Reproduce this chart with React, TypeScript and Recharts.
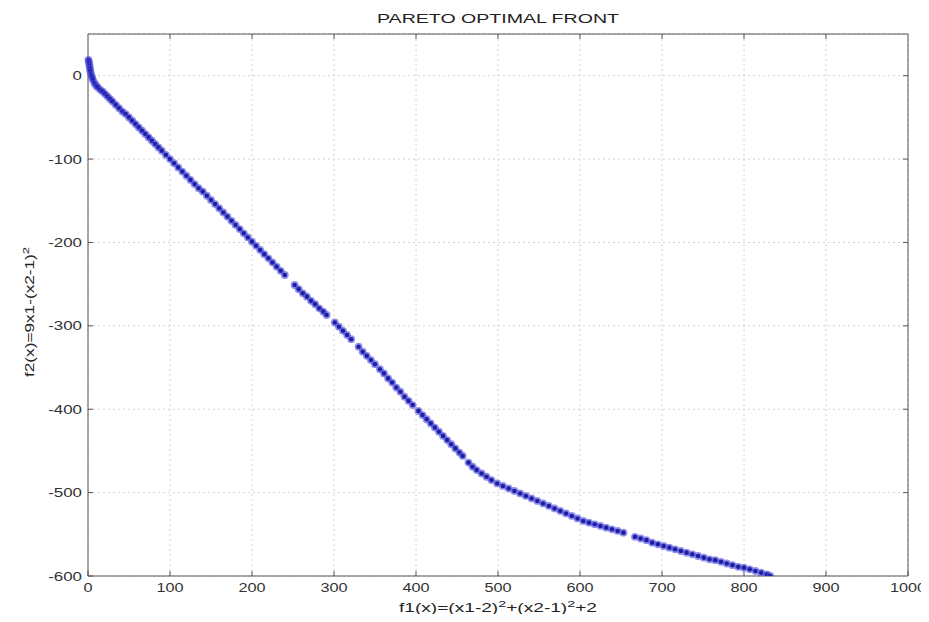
import React from 'react';
import { ScatterChart, Scatter, XAxis, YAxis, CartesianGrid, Label, ReferenceLine } from 'recharts';

const f1Values = [
  0.5, 1, 1.5, 2, 2.5, 3, 4, 5, 6, 8, 10, 12, 15, 18, 21, 24, 27, 30, 34, 38, 42, 46, 50, 54, 58, 62, 66, 70, 74, 78,
  82, 86, 90, 95, 100, 105, 110, 115, 120, 125, 130, 135, 140, 145, 150, 155, 160, 165, 170, 175, 180, 185, 190, 195,
  200, 205, 210, 215, 220, 225, 230, 235, 240, 252, 257, 262, 267, 272, 277, 282, 287, 291, 301, 306, 311, 316, 321,
  330, 335, 340, 345, 350, 356, 361, 366, 371, 376, 381, 386, 391, 396, 403, 408, 413, 418, 423, 428, 433, 438, 443,
  448, 453, 457, 464, 469, 474, 480, 486, 492, 499, 506, 513, 520, 527, 534, 541, 548, 555, 562, 569, 576, 583, 590,
  597, 604, 611, 618, 625, 632, 639, 646, 653, 667, 674, 681, 688, 695, 702, 709, 716, 723, 730, 737, 744, 751, 758,
  765, 772, 779, 786, 793, 800, 807, 814, 821, 828, 832,
];

const f2Values = [
  19, 17, 14, 11, 8, 5, 1, -2, -5, -9, -12, -14, -17, -19, -22, -25, -28, -31, -35, -39, -43, -46, -50, -54, -58, -62, -66, -70, -74, -78,
  -82, -86, -90, -95, -100, -105, -110, -115, -120, -125, -130, -135, -139, -144, -149, -154, -159, -164, -169, -174, -179, -184, -189, -194,
  -199, -204, -209, -214, -219, -224, -229, -234, -239, -251, -256, -261, -265, -270, -274, -279, -283, -287, -296, -301, -306, -311, -316,
  -325, -331, -336, -341, -346, -352, -357, -363, -368, -374, -379, -385, -390, -395, -402, -407, -412, -417, -422, -427, -432, -437, -442,
  -447, -452, -456, -464, -469, -473, -477, -481, -485, -489, -492, -495, -498, -501, -504, -507, -510, -513, -516, -519, -522, -525, -528,
  -531, -534, -536, -538, -540, -542, -544, -546, -548, -553, -555, -557, -560, -562, -564, -566, -568, -570, -572, -574, -576, -578, -580,
  -581, -583, -585, -587, -589, -590, -592, -594, -596, -598, -600,
];

const xTicks = [0, 100, 200, 300, 400, 500, 600, 700, 800, 900, 1000];
const yTicks = [-600, -500, -400, -300, -200, -100, 0];
const xDomain = [0, 1000];
const yDomain = [-600, 50];
const titleText = 'PARETO OPTIMAL FRONT';

const data = f1Values.map((f1, i) => ({ f1, f2: f2Values[i] }));

const FONT = '"Liberation Sans", Arial, Helvetica, sans-serif';
const AXIS = '#555';

const XTick = (props: any) => {
  const { x, y, payload } = props;
  return (
    <g transform={`translate(${x},${y})`}>
      <text transform="scale(1.25,1)" textAnchor="middle" dy="0.71em" fontSize={13} fill="#333" fontFamily={FONT}>
        {payload.value}
      </text>
    </g>
  );
};

const YTick = (props: any) => {
  const { x, y, payload } = props;
  return (
    <g transform={`translate(${x},${y})`}>
      <text transform="scale(1.3,1)" textAnchor="end" dy="0.355em" fontSize={13} fill="#333" fontFamily={FONT}>
        {payload.value}
      </text>
    </g>
  );
};

const Dot = (props: any) => {
  const { cx, cy } = props;
  return (
    <g>
      <circle cx={cx} cy={cy} r={3.9} fill="#4a4ae2" fillOpacity={0.6} />
      <circle cx={cx} cy={cy} r={2.3} fill="#1e1e9e" />
    </g>
  );
};

export default function App() {
  const topVal = yDomain[1];
  const rightVal = xDomain[1];
  return (
    <div style={{ width: 913, height: 606, overflow: 'visible' }}>
      <style>{'html{scrollbar-width:none}body{margin:8px;overflow:visible}.recharts-surface{overflow:visible !important}.recharts-wrapper{overflow:visible !important}'}</style>
      <ScatterChart width={913} height={606} margin={{ top: 26, right: 13, bottom: 0, left: 0 }} style={{ fontFamily: FONT, overflow: 'visible' }}>
        <CartesianGrid stroke="#d2d2d2" strokeDasharray="2 3" />
        <XAxis
          type="number"
          dataKey="f1"
          domain={xDomain}
          ticks={xTicks}
          height={38}
          tickSize={-5}
          tickMargin={12}
          tick={<XTick />}
          axisLine={{ stroke: AXIS }}
          tickLine={{ stroke: AXIS }}
          interval={0}
        >
          <Label
            content={(p: any) => {
              const vb = p.viewBox;
              const cx = vb.x + vb.width / 2;
              const by = vb.y + 36;
              return (
                <text x={cx} y={by} textAnchor="middle" fontSize={12} fill="#222" fontFamily={FONT} textLength={198} lengthAdjust="spacingAndGlyphs">
                  f1(x)=(x1-2)
                  <tspan dy={-5} fontSize={9}>2</tspan>
                  <tspan dy={5}>+(x2-1)</tspan>
                  <tspan dy={-5} fontSize={9}>2</tspan>
                  <tspan dy={5}>+2</tspan>
                </text>
              );
            }}
          />
        </XAxis>
        <YAxis
          type="number"
          dataKey="f2"
          domain={yDomain}
          ticks={yTicks}
          width={80}
          tickSize={-5}
          tickMargin={11}
          tick={<YTick />}
          axisLine={{ stroke: AXIS }}
          tickLine={{ stroke: AXIS }}
          interval={0}
          allowDataOverflow
        >
          <Label
            content={(p: any) => {
              const vb = p.viewBox;
              const cy = vb.y + vb.height / 2 + 7;
              const bx = 26;
              return (
                <text x={bx} y={cy} transform={`rotate(-90, ${bx}, ${cy})`} textAnchor="middle" fontSize={12} fill="#222" fontFamily={FONT} textLength={130} lengthAdjust="spacingAndGlyphs">
                  f2(x)=9x1-(x2-1)
                  <tspan dy={-5} fontSize={9}>2</tspan>
                </text>
              );
            }}
          />
        </YAxis>
        <ReferenceLine y={topVal} stroke={AXIS} strokeWidth={1}>
          <Label
            content={(p: any) => {
              const vb = p.viewBox;
              const cx = vb.x + vb.width / 2;
              return (
                <text x={cx} y={vb.y - 11} textAnchor="middle" fontSize={13} fill="#222" fontFamily={FONT} textLength={242} lengthAdjust="spacingAndGlyphs">
                  {titleText}
                </text>
              );
            }}
          />
        </ReferenceLine>
        <ReferenceLine x={rightVal} stroke={AXIS} strokeWidth={1} />
        {xTicks.slice(1, -1).map((t) => (
          <ReferenceLine key={`tx${t}`} segment={[{ x: t, y: topVal }, { x: t, y: topVal - 6 }]} stroke={AXIS} />
        ))}
        {yTicks.slice(1).map((t) => (
          <ReferenceLine key={`ty${t}`} segment={[{ x: rightVal, y: t }, { x: rightVal - 6, y: t }]} stroke={AXIS} />
        ))}
        <Scatter data={data} shape={<Dot />} isAnimationActive={false} />
      </ScatterChart>
    </div>
  );
}
